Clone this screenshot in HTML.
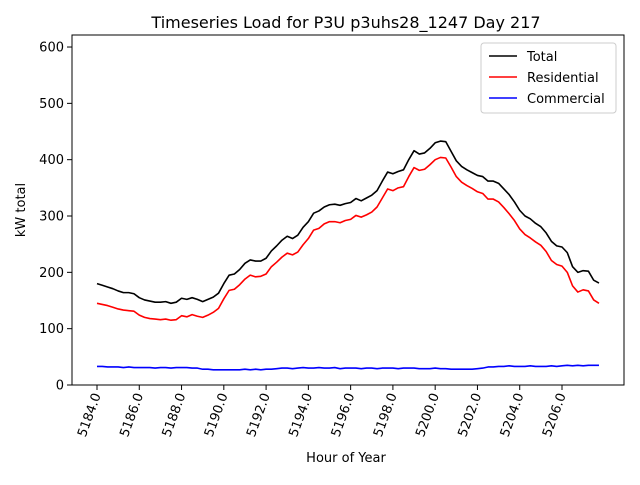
<!DOCTYPE html>
<html><head><meta charset="utf-8"><style>
body{margin:0;background:#fff}
svg{font-family:"DejaVu Sans","Liberation Sans",sans-serif}
</style></head><body>
<svg id="chart" width="640" height="480">
<text x="346" y="28" font-size="16" text-anchor="middle">Timeseries Load for P3U p3uhs28_1247  Day 217</text>
<text x="346" y="462" font-size="13" text-anchor="middle">Hour of Year</text>
<text transform="translate(25,210) rotate(-90)" font-size="13" text-anchor="middle">kW total</text>
<g id="grid"></g>
<g id="series"></g>
<rect x="72" y="35" width="552" height="350" fill="none" stroke="#000" stroke-width="1"/>
<g>
<rect x="481" y="43" width="135" height="70" rx="3" fill="#fff" fill-opacity="0.8" stroke="#ccc"/>
<line x1="489" y1="56" x2="517" y2="56" stroke="#000" stroke-width="1.5"/>
<text x="527" y="61" font-size="13">Total</text>
<line x1="489" y1="77" x2="517" y2="77" stroke="#f00" stroke-width="1.5"/>
<text x="527" y="82" font-size="13">Residential</text>
<line x1="489" y1="98" x2="517" y2="98" stroke="#00f" stroke-width="1.5"/>
<text x="527" y="103" font-size="13">Commercial</text>
</g>
</svg>
<script>
const startHour = 5184;
const stepHour = 0.25;
const xTicks = [5184,5186,5188,5190,5192,5194,5196,5198,5200,5202,5204,5206];
const yTicks = [0,100,200,300,400,500,600];
const total = [180,177,174,171,167,164,164,162,155,151,149,147,147,148,145,147,154,152,155,152,148,152,156,163,180,195,197,205,216,222,220,220,225,238,247,257,264,260,266,280,290,305,309,316,320,321,319,322,324,331,327,332,337,345,362,378,375,379,382,400,416,410,412,420,430,433,432,415,398,388,382,377,372,370,362,362,358,348,338,325,310,300,295,287,281,270,255,247,245,235,210,200,203,202,186,181];
const residential = [145,143,141,138,135,133,132,131,124,120,118,117,116,117,115,116,123,121,125,122,120,124,129,136,153,168,170,178,188,195,192,193,197,210,218,227,234,231,236,249,260,275,278,286,290,290,288,292,294,301,298,302,307,316,332,348,345,350,352,370,386,381,383,391,400,404,403,387,370,360,354,349,343,340,330,330,325,315,304,292,277,267,261,254,248,237,221,214,211,200,176,165,169,167,151,145];
const commercial = [33,33,32,32,32,31,32,31,31,31,31,30,31,31,30,31,31,31,30,30,28,28,27,27,27,27,27,27,28,27,28,27,28,28,29,30,30,29,30,31,30,30,31,30,30,31,29,30,30,30,29,30,30,29,30,30,30,29,30,30,30,29,29,29,30,29,29,28,28,28,28,28,29,30,32,32,33,33,34,33,33,33,34,33,33,33,34,33,34,35,34,35,34,35,35,35];

const X = h => 97 + (h - 5184) * 21.136;
const Y = v => 385 - v * 0.5633;
const NS = "http://www.w3.org/2000/svg";
const grid = document.getElementById('grid');
const ser = document.getElementById('series');

yTicks.forEach(t => {
  const l = document.createElementNS(NS,'line');
  l.setAttribute('x1',67); l.setAttribute('x2',72);
  l.setAttribute('y1',Y(t)); l.setAttribute('y2',Y(t));
  l.setAttribute('stroke','#000');
  
  
  grid.appendChild(l);
  const tx = document.createElementNS(NS,'text');
  tx.setAttribute('x',64); tx.setAttribute('y',Y(t)+4.5);
  tx.setAttribute('font-size','13'); tx.setAttribute('text-anchor','end');
  tx.textContent = t;
  
  
  grid.appendChild(tx);
});
xTicks.forEach(t => {
  const x = X(t);
  const l = document.createElementNS(NS,'line');
  l.setAttribute('x1',x); l.setAttribute('x2',x);
  l.setAttribute('y1',385); l.setAttribute('y2',390);
  l.setAttribute('stroke','#000');
  
  
  grid.appendChild(l);
  const tx = document.createElementNS(NS,'text');
  tx.setAttribute('transform',`translate(${x+4},395) rotate(-70)`);
  tx.setAttribute('font-size','13'); tx.setAttribute('text-anchor','end');
  tx.textContent = t.toFixed(1);
  
  
  grid.appendChild(tx);
});
function draw(arr, color, name) {
  const p = document.createElementNS(NS,'polyline');
  p.setAttribute('points', arr.map((v,i)=>X(startHour+i*stepHour)+','+Y(v)).join(' '));
  p.setAttribute('fill','none'); p.setAttribute('stroke',color);
  p.setAttribute('stroke-width','1.6'); p.setAttribute('stroke-linejoin','round');
  
  
  ser.appendChild(p);
}
draw(total,'#000','total-line');
draw(residential,'#f00','residential-line');
draw(commercial,'#00f','commercial-line');
</script>
</body></html>
